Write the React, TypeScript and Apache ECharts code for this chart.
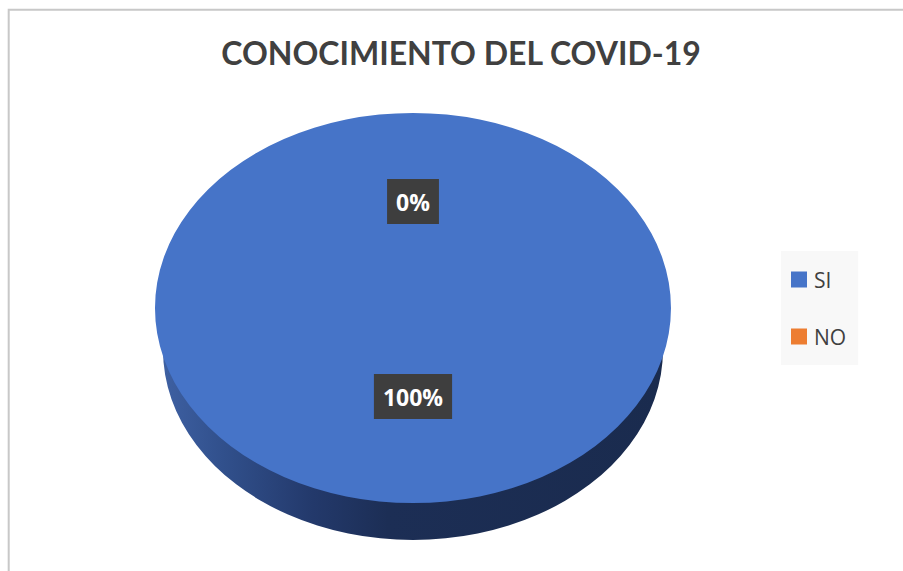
import React, { useEffect, useRef } from "react";
import * as echarts from "echarts";

const TITLE = "CONOCIMIENTO DEL COVID-19";
const categories = ["SI", "NO"];
const values = [100, 0];
const colors = ["#4674C8", "#ED7D31"];

export default function App() {
  const ref = useRef<HTMLDivElement>(null);

  useEffect(() => {
    if (!ref.current) return;
    const chart = echarts.init(ref.current, null, { renderer: "svg" });

    const cx = 413;
    const cy = 308;
    const rx = 258;
    const ry = 195;
    const depthBottom = 540;
    const rxB = 250;
    const ryB = 190;
    const cyB = depthBottom - ryB;
    const labelCy = 299;
    const total = values.reduce((a, b) => a + b, 0);

    const sideGradient = new echarts.graphic.LinearGradient(0, 0, 1, 0, [
      { offset: 0, color: "#3e60a2" },
      { offset: 0.12, color: "#31508c" },
      { offset: 0.3, color: "#23396b" },
      { offset: 0.45, color: "#1c2e55" },
      { offset: 1, color: "#1a2b4e" },
    ]);

    const buildSlice = (i: number) => {
      const before = values.slice(0, i).reduce((a, b) => a + b, 0);
      const start = -Math.PI / 2 + (before / total) * Math.PI * 2;
      const end = start + (values[i] / total) * Math.PI * 2;
      const mid = (start + end) / 2;
      const pct = Math.round((values[i] / total) * 100) + "%";
      const children: any[] = [];
      if (values[i] > 0) {
        children.push({
          type: "group",
          x: cx,
          y: cyB,
          scaleY: ryB / rxB,
          children: [
            {
              type: "sector",
              z2: 0,
              shape: { cx: 0, cy: 0, r0: 0, r: rxB, startAngle: start, endAngle: end, clockwise: true },
              style: { fill: sideGradient },
            },
          ],
        });
        children.push({
          type: "group",
          x: cx,
          y: cy,
          scaleY: ry / rx,
          children: [
            {
              type: "sector",
              z2: 10,
              shape: { cx: 0, cy: 0, r0: 0, r: rx, startAngle: start, endAngle: end, clockwise: true },
              style: { fill: colors[i] },
            },
          ],
        });
      }
      children.push({
        type: "text",
        z2: 20,
        x: cx + 0.5 * rx * Math.cos(mid),
        y: labelCy + 0.5 * ry * Math.sin(mid),
        style: {
          text: pct,
          fill: "#ffffff",
          font: 'bold 23px "Open Sans", sans-serif',
          align: "center",
          verticalAlign: "middle",
          backgroundColor: "#3e3e3e",
          padding: [11, 9, 11, 9],
        },
      });
      return { type: "group", children };
    };

    chart.setOption({
      animation: false,
      backgroundColor: "#ffffff",
      title: {
        text: TITLE,
        left: 461,
        textAlign: "center",
        top: 36,
        padding: 0,
        textStyle: {
          fontFamily: "Lato, sans-serif",
          fontWeight: "bold",
          fontSize: 32,
          color: "#404040",
        },
      },
      legend: {
        data: categories,
        orient: "vertical",
        left: 781,
        top: 251,
        icon: "rect",
        itemWidth: 16,
        itemHeight: 16,
        itemGap: 36,
        padding: [18, 12, 18, 10],
        backgroundColor: "#f8f8f8",
        selectedMode: false,
        textStyle: {
          fontFamily: '"Open Sans", sans-serif',
          fontSize: 21,
          color: "#404040",
          padding: [0, 0, 0, 2],
        },
      },
      graphic: [
        {
          type: "rect",
          silent: true,
          shape: { x: 8.7, y: 9.7, width: 1000, height: 1000 },
          style: { fill: "none", stroke: "#c8c8c8", lineWidth: 2 },
        },
      ],
      series: categories.map((name, i) => ({
        type: "custom",
        name,
        coordinateSystem: "none",
        itemStyle: { color: colors[i] },
        data: [[values[i]]],
        renderItem: () => buildSlice(i),
      })),
    });

    return () => chart.dispose();
  }, []);

  return (
    <div
      ref={ref}
      style={{ position: "absolute", left: 0, top: 0, width: 903, height: 571 }}
    />
  );
}
